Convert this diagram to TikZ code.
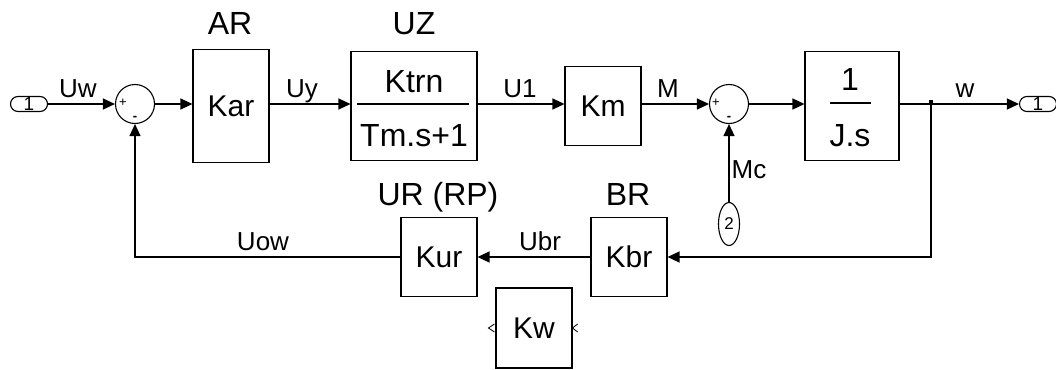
\documentclass[tikz,border=0pt]{standalone}
\usepackage{fontspec}
\setmainfont{Liberation Sans}
\usetikzlibrary{arrows.meta,shapes.geometric}
\tikzset{
  blk/.style={draw, line width=1.1pt, rectangle, inner sep=0pt, font=\fontsize{30}{32}\selectfont},
  sumc/.style={draw, line width=1.1pt, circle, minimum size=39pt, inner sep=0pt},
  port/.style={draw, line width=1.1pt, rectangle, rounded corners=7.5pt, minimum width=37pt, minimum height=15pt, inner sep=0pt, font=\fontsize{19}{19}\selectfont},
  sig/.style={line width=1.2pt, -{Triangle[length=12pt,width=11pt]}},
  wire/.style={line width=1.2pt},
  lbl/.style={anchor=base, inner sep=0pt, font=\fontsize{26}{28}\selectfont},
  ttl/.style={anchor=base, inner sep=0pt, font=\fontsize{32}{34}\selectfont},
  ftxt/.style={anchor=base, inner sep=0pt, font=\fontsize{32}{34}\selectfont},
  sgn/.style={inner sep=0pt, font=\fontsize{13}{13}\selectfont},
}
\begin{document}
\begin{tikzpicture}[x=1pt,y=-1pt]
\useasboundingbox (0,0) rectangle (1056,369);
% blocks
\node[port] (in1) at (29,104) {1};
\node[sumc] (sum1) at (135,104) {};
\node[blk, minimum width=76pt, minimum height=113pt] (kar) at (231,106) {Kar};
\node[blk, minimum width=126pt, minimum height=109pt] (uz) at (414,106) {};
\node[blk, minimum width=76pt, minimum height=79pt] (km) at (603,106) {Km};
\node[sumc] (sum2) at (729,104) {};
\node[blk, minimum width=94pt, minimum height=109pt] (js) at (852,106) {};
\node[port] (out1) at (1038,104) {1};
\node[draw, line width=1.1pt, ellipse, minimum width=21pt, minimum height=43pt, inner sep=0pt, font=\fontsize{17}{17}\selectfont] (p2) at (729,224) {2};
\node[blk, minimum width=76pt, minimum height=79pt] (kbr) at (629,257) {Kbr};
\node[blk, minimum width=76pt, minimum height=79pt] (kur) at (439,257) {Kur};
\node[blk, minimum width=76pt, minimum height=80pt] (kw) at (534,328) {Kw};
% fractions
\node[ftxt] (num1) at (414,92) {Ktrn};
\node[ftxt] (den1) at (414,146) {Tm.s+1};
\draw[wire] ([xshift=7pt]uz.west |- 0,104) -- ([xshift=-9pt]uz.east |- 0,104);
\node[ftxt] (num2) at (850,90) {1};
\node[ftxt] (den2) at (850,146) {J.s};
\draw[wire] (830,103) -- (871,103);
% sum signs
\node[sgn] (p1) at (123,103) {+};
\node[sgn] (m1) at (135,118) {\textbf{-}};
\node[sgn] (p2s) at (716,103) {+};
\node[sgn] (m2) at (729,118) {\textbf{-}};
% titles
\node[ttl] (tAR) at (230,35) {AR};
\node[ttl] (tUZ) at (414,35) {UZ};
\node[ttl] (tUR) at (438,205) {UR (RP)};
\node[ttl] (tBR) at (628,205) {BR};
% labels
\node[lbl] (lUw) at (78,97) {Uw};
\node[lbl] (lUy) at (302,97) {Uy};
\node[lbl] (lU1) at (520,97) {U1};
\node[lbl] (lM) at (668,97) {M};
\node[lbl] (lw) at (965,97) {w};
\node[lbl] (lMc) at (749,178) {Mc};
\node[lbl] (lUbr) at (540,250) {Ubr};
\node[lbl] (lUow) at (263,250) {Uow};
% connectors
\coordinate (br) at (931,104);
\draw[sig] (in1.east) -- (sum1.west);
\draw[sig] (sum1.east) -- (kar.west |- sum1.east);
\draw[sig] (kar.east |- 0,104) -- (uz.west |- 0,104);
\draw[sig] (uz.east |- 0,104) -- (km.west |- 0,104);
\draw[sig] (km.east |- 0,104) -- (sum2.west);
\draw[sig] (sum2.east) -- (js.west |- sum2.east);
\draw[sig] (js.east |- 0,104) -- (out1.west);
\draw[sig] (br) |- (kbr.east);
\draw[sig] (kbr.west) -- (kur.east);
\draw[sig] (kur.west) -| (sum1.south);
\draw[sig] (p2.north) -- (sum2.south);
\fill (br) ++(-2pt,-0.5pt) rectangle ++(4pt,4.5pt);
% unconnected port marks on Kw
\draw[line width=0.8pt] ([xshift=-1pt,yshift=-4pt]kw.west) -- ([xshift=-7pt]kw.west) -- ([xshift=-1pt,yshift=4pt]kw.west);
\draw[line width=0.8pt] ([xshift=5pt,yshift=-4pt]kw.east) -- ([xshift=0pt]kw.east) -- ([xshift=5pt,yshift=4pt]kw.east);
\end{tikzpicture}
\end{document}
